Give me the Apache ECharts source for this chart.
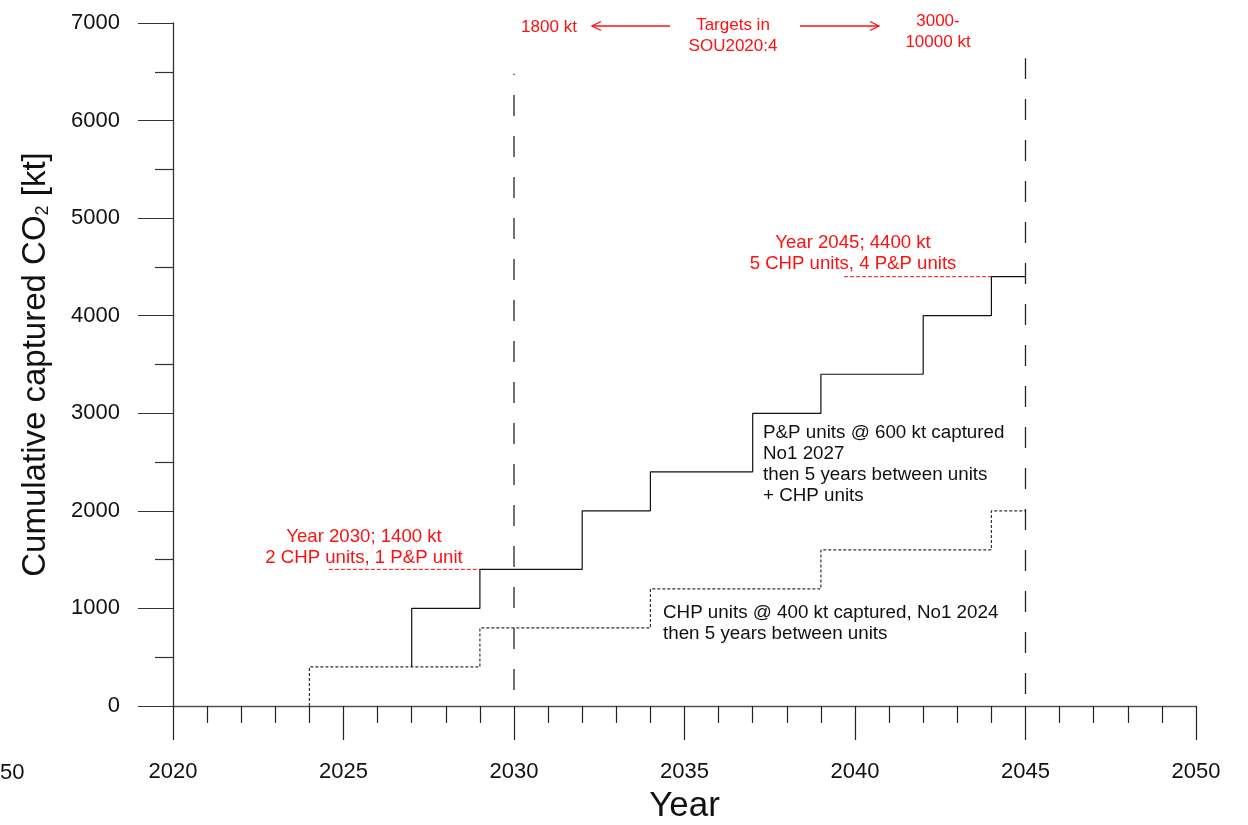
<!DOCTYPE html>
<html>
<head>
<meta charset="utf-8">
<script src="https://cdn.jsdelivr.net/npm/echarts@6/dist/echarts.min.js"></script>
<style>
  html, body { margin: 0; padding: 0; background: #ffffff; }
  #chart { width: 1248px; height: 825px; }
</style>
</head>
<body>
<div id="chart"></div>
<script>
// CHP units: 400 kt each, first in 2024, then one every 5 years
const chpYears = [2024, 2029, 2034, 2039, 2044];
const chpCumulative = [400, 800, 1200, 1600, 2000];
const chpStartLevel = 0;

// P&P units (600 kt each, first 2027) plus CHP units: total captured
const totalYears = [2027, 2029, 2032, 2034, 2037, 2039, 2042, 2044];
const totalCumulative = [1000, 1400, 2000, 2400, 3000, 3400, 4000, 4400];
const totalStartLevel = 400;

const lastYear = 2045;

// Target years from SOU2020:4 (vertical dashed markers) and their drawn heights
const targetYears = [2030, 2045];
const targetLineTops = [6480, 6640];

// Leader lines under the red notes
const note2030Line = [[2024.57, 1400], [2029, 1400]];
const note2045Line = [[2039.68, 4400], [2044.1, 4400]];

// Axis ranges
const xRange = [2020, 2050];
const yRange = [0, 7000];

const FONT = '"Liberation Sans", Arial, sans-serif';

// Turn "level reached at year" lists into the vertices of a step line
function stepVertices(years, levels, startLevel, endYear) {
  const pts = [];
  let prev = startLevel;
  for (let i = 0; i < years.length; i++) {
    pts.push([years[i], prev]);
    pts.push([years[i], levels[i]]);
    prev = levels[i];
  }
  pts.push([endYear, prev]);
  return pts;
}

const chart = echarts.init(document.getElementById('chart'), null, { renderer: 'canvas' });

const axisTextStyle = { fontSize: 22, color: '#111', fontFamily: FONT };

const series = [
  {
    name: 'Total',
    type: 'line',
    data: stepVertices(totalYears, totalCumulative, totalStartLevel, lastYear),
    showSymbol: false,
    lineStyle: { color: '#111', width: 1.2 },
    z: 5
  },
  {
    name: 'CHP',
    type: 'line',
    data: stepVertices(chpYears, chpCumulative, chpStartLevel, lastYear),
    showSymbol: false,
    lineStyle: { color: '#333', width: 1.2, type: [3, 2] },
    z: 4
  },
  {
    name: 'Note 2030',
    type: 'line',
    data: note2030Line,
    showSymbol: false,
    lineStyle: { color: '#ff1010', width: 1, type: [4, 2] },
    z: 3
  },
  {
    name: 'Note 2045',
    type: 'line',
    data: note2045Line,
    showSymbol: false,
    lineStyle: { color: '#ff1010', width: 1, type: [4, 2] },
    z: 3
  }
];

// Dash phase so each marker starts with a short gap above the axis
const dashOffsets = [25, 29];
targetYears.forEach((yr, i) => {
  series.push({
    name: 'Target ' + yr,
    type: 'line',
    data: [[yr, 0], [yr, targetLineTops[i]]],
    showSymbol: false,
    lineStyle: { color: '#222', width: 1.3, type: [21, 20], dashOffset: dashOffsets[i] },
    z: 2
  });
});

const option = {
  animation: false,
  backgroundColor: '#ffffff',
  grid: { left: 173, right: 52, top: 23, bottom: 119, outerBoundsMode: 'none' },
  xAxis: {
    type: 'value',
    min: xRange[0], max: xRange[1], interval: 5,
    axisLine: { show: true, onZero: false, lineStyle: { color: '#555', width: 1.3 } },
    axisTick: { show: true, length: 34, lineStyle: { color: '#222', width: 1.2 } },
    minorTick: { show: true, splitNumber: 5, length: 17, lineStyle: { color: '#222', width: 1.2 } },
    splitLine: { show: false },
    minorSplitLine: { show: false },
    axisLabel: Object.assign({ margin: 55, formatter: v => String(v) }, axisTextStyle),
    name: 'Year',
    nameLocation: 'middle',
    nameGap: 83,
    nameTextStyle: { fontSize: 35, color: '#111', fontFamily: FONT }
  },
  yAxis: {
    type: 'value',
    min: yRange[0], max: yRange[1], interval: 1000,
    axisLine: { show: true, lineStyle: { color: '#333', width: 1.3 } },
    axisTick: { show: true, length: 35, lineStyle: { color: '#333', width: 1.2 } },
    minorTick: { show: true, splitNumber: 2, length: 18, lineStyle: { color: '#333', width: 1.2 } },
    splitLine: { show: false },
    minorSplitLine: { show: false },
    axisLabel: Object.assign({ margin: 53, formatter: v => String(v) }, axisTextStyle),
    name: 'Cumulative captured CO{sub|2} [kt]',
    nameLocation: 'middle',
    nameGap: 121,
    nameTextStyle: {
      fontSize: 33, color: '#111', fontFamily: FONT,
      rich: { sub: { fontSize: 18, color: '#111', fontFamily: FONT, verticalAlign: 'bottom' } }
    }
  },
  series: series
};

chart.setOption(option);

// Annotation text and arrows
const red = '#ff1010';
function txt(text, x, y, color, size, align) {
  return {
    type: 'text', x: x, y: y, z: 10,
    style: {
      text: text, fill: color, fontSize: size, fontFamily: FONT,
      align: align || 'center', verticalAlign: 'middle', lineHeight: 21
    }
  };
}
function line(points, color) {
  return {
    type: 'polyline', z: 10,
    shape: { points: points },
    style: { stroke: color, lineWidth: 1.3, fill: null }
  };
}

chart.setOption({
  graphic: [
    txt('1800 kt', 549, 27, red, 17),
    txt('Targets in\nSOU2020:4', 733, 36, red, 17),
    txt('3000-\n10000 kt', 938, 32, red, 17),
    line([[670, 26], [592, 26]], red),
    line([[601, 21.5], [592, 26], [601, 30.5]], red),
    line([[800, 26], [879, 26]], red),
    line([[870, 21.5], [879, 26], [870, 30.5]], red),
    txt('Year 2030; 1400 kt\n2 CHP units, 1 P&P unit', 364, 547, red, 18.6),
    txt('Year 2045; 4400 kt\n5 CHP units, 4 P&P units', 853, 253, red, 18.6),
    txt('P&P units @ 600 kt captured\nNo1 2027\nthen 5 years between units\n+ CHP units', 763, 464, '#111', 18.8, 'left'),
    txt('CHP units @ 400 kt captured, No1 2024\nthen 5 years between units', 663, 623, '#111', 18.8, 'left'),
    txt('50', 0, 773, '#111', 22, 'left')
  ]
});
</script>
</body>
</html>
